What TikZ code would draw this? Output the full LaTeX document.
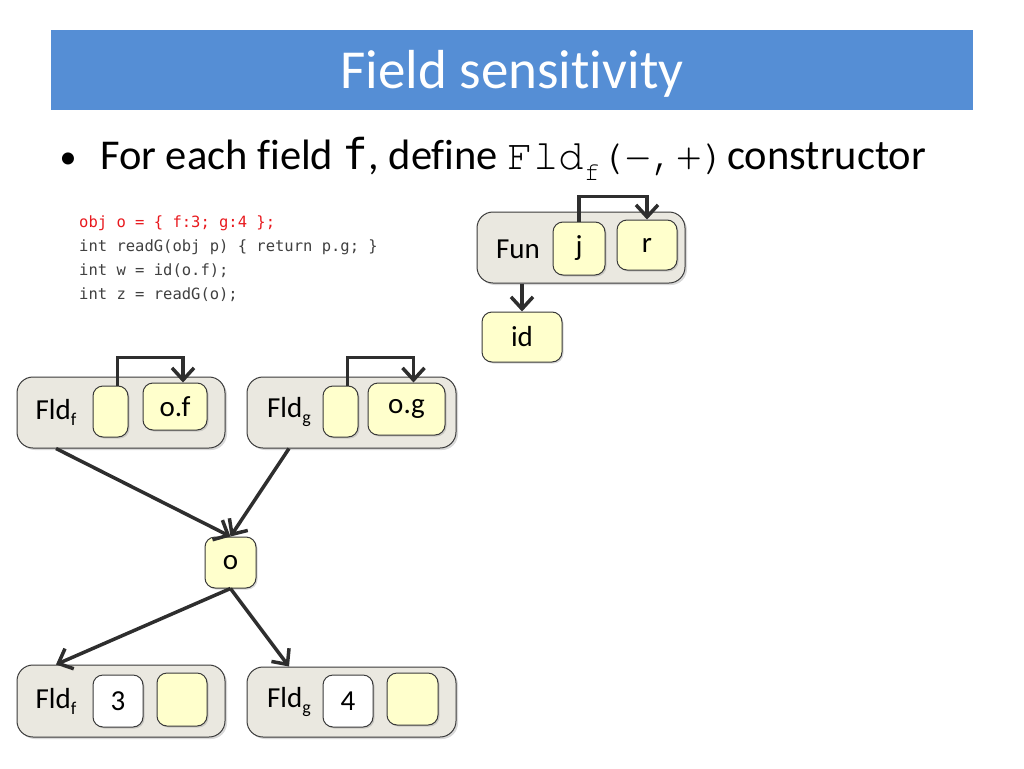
\documentclass[tikz,border=0pt]{standalone}
\usepackage{fontspec}
\setmainfont[Ligatures=NoCommon]{Carlito}
\newfontfamily\codefont{DejaVu Sans Mono}
\newfontfamily\courfont{TeX Gyre Cursor}
\usetikzlibrary{arrows.meta,shadows}

\definecolor{titleblue}{HTML}{558ED5}
\definecolor{boxgray}{HTML}{EAE8E0}
\definecolor{cellyellow}{HTML}{FFFFCC}
\definecolor{edgegray}{HTML}{3A3A3A}
\definecolor{codered}{HTML}{E8191E}
\definecolor{codegray}{HTML}{404040}
\definecolor{flowgray}{HTML}{2E2E2E}

% label of a field constructor, e.g. Fld with subscript
\newcommand{\fldname}[1]{Fld\raisebox{-6pt}{\fontsize{18}{18}\selectfont #1}}

\tikzset{
  outerbox/.style={draw=edgegray, fill=boxgray, line width=1pt, rounded corners=16pt,
    inner sep=0pt, drop shadow={opacity=0.3, shadow xshift=2pt, shadow yshift=-2pt}},
  cell/.style={draw=edgegray, fill=cellyellow, line width=1pt, rounded corners=10pt,
    inner sep=0pt, font=\fontsize{29}{29}\selectfont,
    drop shadow={opacity=0.3, shadow xshift=1.5pt, shadow yshift=-1.5pt}},
  valcell/.style={cell, fill=white},
  lbl/.style={font=\fontsize{29}{29}\selectfont},
  codeline/.style={anchor=base west, inner sep=0pt, font=\codefont\fontsize{15.5}{15.5}\selectfont, text=codegray},
  flow/.style={draw=flowgray, line width=3.5pt, -{Straight Barb[length=12pt,width=22pt]}},
}

\begin{document}
\begin{tikzpicture}[x=1pt, y=-1pt]

    % --- Canvas ---
    \useasboundingbox (0,0) rectangle (1024,768);

    % --- Title bar ---
    \fill[titleblue] (51,30) rectangle (973,110);
    \node[anchor=base, text=white, font=\fontsize{55}{55}\selectfont] (title) at (512,88) {Field sensitivity};

    % --- Bullet line ---
    \node[anchor=base, font=\fontsize{34}{34}\selectfont] (dot) at (68,168) {•};
    \node[anchor=base west, inner sep=0pt, font=\fontsize{42.5}{42.5}\selectfont] (bullet) at (100,169)
      {For each field {\codefont f}, define {\courfont Fld\raisebox{-11pt}{\fontsize{26}{26}\selectfont f}(−,+)}constructor};

    % --- Code ---
    \node[codeline, text=codered] (code1) at (79,227) {obj o = \{ f:3; g:4 \};};
    \node[codeline] (code2) at (79,251) {int readG(obj p) \{ return p.g; \}};
    \node[codeline] (code3) at (79,275) {int w = id(o.f);};
    \node[codeline] (code4) at (79,299) {int z = readG(o);};

    % --- Fun constructor ---
    \node[outerbox, minimum width=208, minimum height=71] (fun) at (581,247.5) {};
    \node[lbl] (funlbl) at (518,249) {Fun};
    \node[cell, minimum width=52, minimum height=53] (j) at (579,248.5) {j};
    \node[cell, minimum width=60, minimum height=50] (r) at (647,245) {r};
    \node[cell, minimum width=80, minimum height=50] (id) at (522,337) {id};
    \draw[flow] (j.north) -- ++(0,-25) -| (r.north);
    \draw[flow] (id.north |- fun.south) -- (id.north);

    % --- Upper field constructors ---
    \node[outerbox, minimum width=208, minimum height=71] (fldfA) at (121,412.5) {};
    \node[lbl] (fldfAlbl) at (56,412) {\fldname{f}};
    \node[cell, minimum width=35, minimum height=51] (fldfAin) at (110.5,411.5) {};
    \node[cell, minimum width=64, minimum height=47] (of) at (175,406.5) {o.f};
    \draw[flow] ([xshift=7pt]fldfAin.north) -- ++(0,-28) -| ([xshift=8pt]of.north);

    \node[outerbox, minimum width=209, minimum height=71] (fldgA) at (351.5,412.5) {};
    \node[lbl] (fldgAlbl) at (289,412) {\fldname{g}};
    \node[cell, minimum width=35, minimum height=51] (fldgAin) at (340.5,411.5) {};
    \node[cell, minimum width=77, minimum height=52] (og) at (406.5,409) {o.g};
    \draw[flow] ([xshift=7pt]fldgAin.north) -- ++(0,-28) -| ([xshift=7pt]og.north);

    % --- Object o ---
    \node[cell, minimum width=51, minimum height=51] (o) at (230.5,562.5) {o};
    \draw[flow] (fldfAlbl |- fldfA.south) -- (o.north);
    \draw[flow] (fldgAlbl |- fldgA.south) -- (o.north);

    % --- Lower field constructors ---
    \node[outerbox, minimum width=208, minimum height=72] (fldfB) at (121,701) {};
    \node[lbl] (fldfBlbl) at (56,701) {\fldname{f}};
    \node[valcell, minimum width=50, minimum height=52] (three) at (118,701) {3};
    \node[cell, minimum width=50, minimum height=53] (fldfBout) at (182,699.5) {};

    \node[outerbox, minimum width=209, minimum height=70] (fldgB) at (351.5,702) {};
    \node[lbl] (fldgBlbl) at (289,702) {\fldname{g}};
    \node[valcell, minimum width=50, minimum height=52] (four) at (348,701) {4};
    \node[cell, minimum width=51, minimum height=52] (fldgBout) at (412.5,699) {};

    \draw[flow] (o.south) -- (fldfBlbl |- fldfB.north);
    \draw[flow] (o.south) -- (fldgBlbl |- fldgB.north);

\end{tikzpicture}
\end{document}
